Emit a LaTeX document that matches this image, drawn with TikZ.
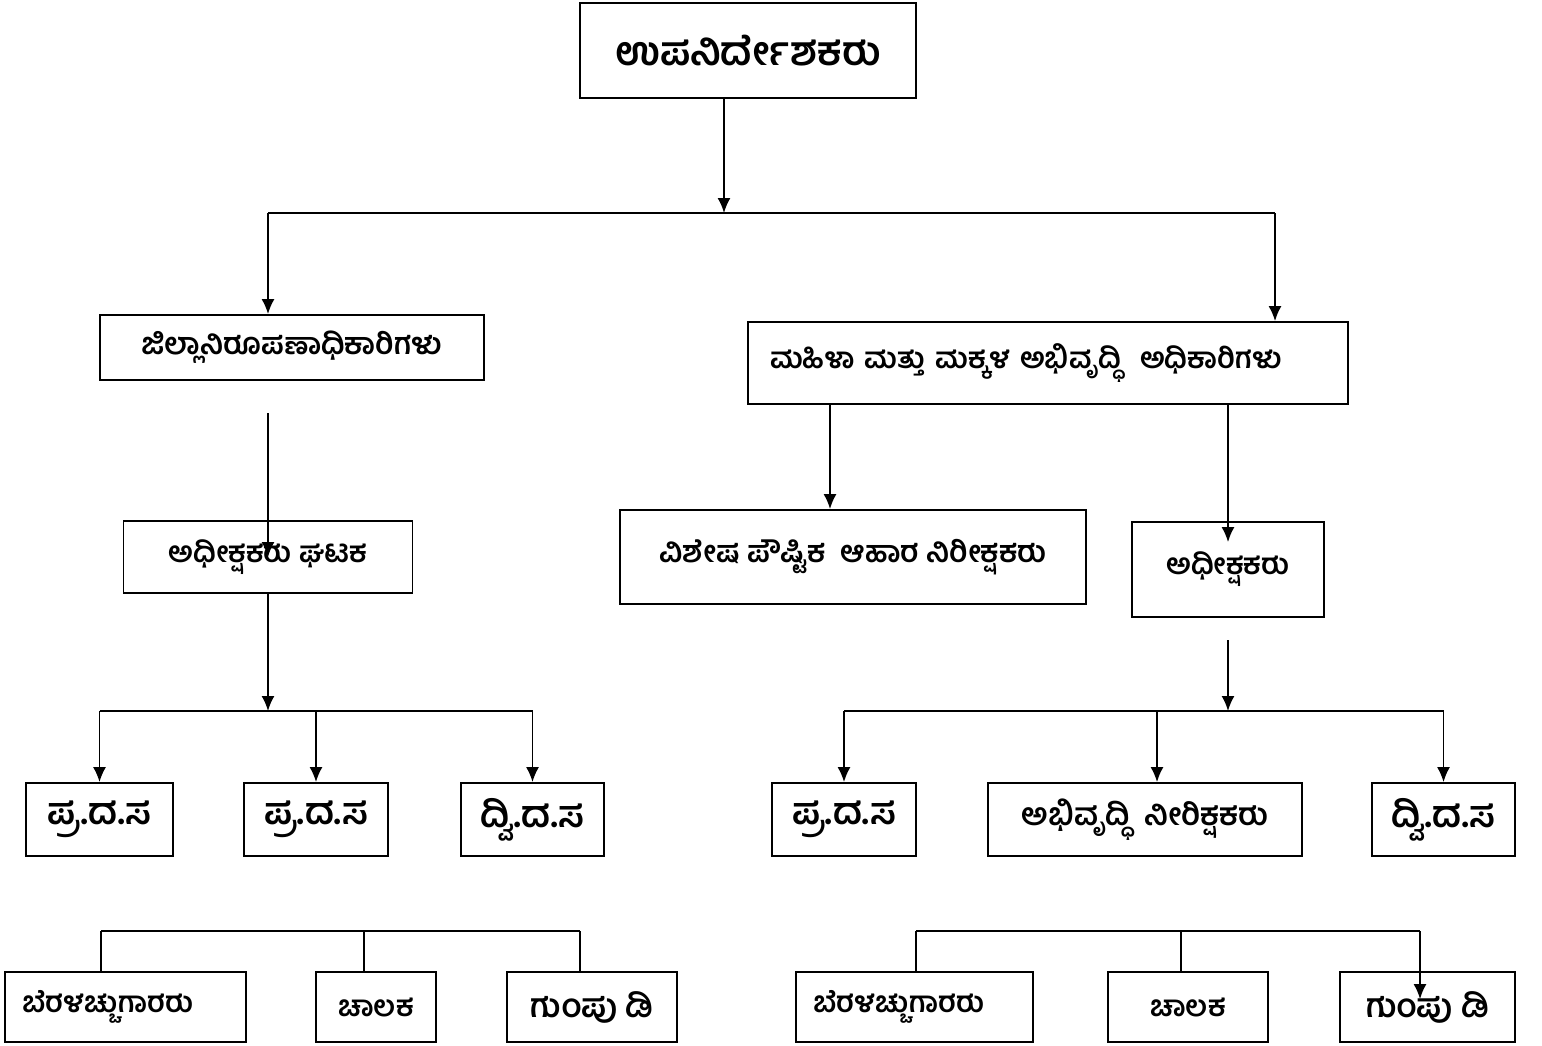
\documentclass[tikz,border=0pt]{standalone}
\usepackage{fontspec}
\newfontfamily\kan[Script=Kannada]{Hind Mysuru}
\usetikzlibrary{arrows.meta}
\tikzset{%
    post/.style={
        draw,
        rectangle,
        line width=1.8pt,
        inner sep=0pt,
        font=\kan\bfseries\fontsize{#1}{#1}\selectfont
    },
}

\begin{document}
\begin{tikzpicture}[x=1pt, y=-1pt, line width=1.8pt, >={Latex[length=15pt,width=13pt]}]
        \useasboundingbox (0,0) rectangle (1542,1045);

        % boxes
        \node [post=40, minimum width=336pt, minimum height=95pt] (head) at (748,50.5) {ಉಪನಿರ್ದೇಶಕರು};
        \node [post=30, minimum width=384pt, minimum height=65pt] (dist) at (292,347.5) {ಜಿಲ್ಲಾನಿರೂಪಣಾಧಿಕಾರಿಗಳು};
        \node [post=29, minimum width=289pt, minimum height=72pt] (unit) at (268,557) {ಅಧೀಕ್ಷಕರು ಘಟಕ};
        \node [post=29, minimum width=600pt, minimum height=82pt, text width=556pt, align=left] (wcd) at (1048,363) {ಮಹಿಳಾ ಮತ್ತು ಮಕ್ಕಳ ಅಭಿವೃದ್ಧಿ\ \ ಅಧಿಕಾರಿಗಳು};
        \node [post=30, minimum width=466pt, minimum height=94pt] (food) at (853,557) {ವಿಶೇಷ ಪೌಷ್ಟಿಕ\ \ ಆಹಾರ ನಿರೀಕ್ಷಕರು};
        \node [post=29, minimum width=192pt, minimum height=95pt] (supt) at (1228,569.5) {ಅಧೀಕ್ಷಕರು};

        \foreach \n/\x/\w/\t in {pdA/99.5/147/ಪ್ರ.ದ.ಸ, pdB/316/144/ಪ್ರ.ದ.ಸ, sdA/532.5/143/ದ್ವಿ.ದ.ಸ, pdC/844/144/ಪ್ರ.ದ.ಸ, sdB/1443.5/143/ದ್ವಿ.ದ.ಸ}
            \node [post=37, minimum width=\w pt, minimum height=73pt] (\n) at (\x,819.5) {\t};
        \node [post=31, minimum width=314pt, minimum height=73pt] (abhi) at (1145,819.5) {ಅಭಿವೃದ್ಧಿ\ \ ನೀರಿಕ್ಷಕರು};

        \foreach \n/\x/\w in {typA/125.5/241, typB/914.5/237}
            \node [post=29, minimum width=\w pt, minimum height=70pt, text width=\w pt-34pt, align=left] (\n) at (\x,1007) {ಬೆರಳಚ್ಚುಗಾರರು};
        \foreach \n/\x/\w/\s/\t in {drvA/376/120/29/ಚಾಲಕ, grpA/592/170/33/ಗುಂಪು ಡಿ,
                                    drvB/1188/160/29/ಚಾಲಕ, grpB/1427.5/175/33/ಗುಂಪು ಡಿ}
            \node [post=\s, minimum width=\w pt, minimum height=70pt] (\n) at (\x,1007) {\t};

        % top level
        \coordinate (hub) at (724,213);
        \coordinate (hubL) at (268,213);
        \coordinate (hubR) at (1275,213);
        \draw [->] (head.south -| hub) -- (hub);
        \draw (hubL) -- (hubR);
        \draw [->] (hubL) -- (hubL |- dist.north);
        \draw [->] (hubR) -- (hubR |- wcd.north);

        % left branch
        \coordinate (distout) at (268,413);
        \draw [->] (distout) -- (distout |- unit.center);

        \coordinate (busL) at (268,711);
        \draw [->] (unit.south) -- (unit.south |- busL);
        \draw (pdA.north |- busL) -- (sdA.north |- busL);
        \foreach \n in {pdA,pdB,sdA}
            \draw [->] (\n.north |- busL) -- (\n.north);

        % right branch
        \draw [->] (830,0 |- wcd.south) -- (830,0 |- food.north);
        \draw [->] ([yshift=1pt]supt.north |- wcd.south) -- ([yshift=-21pt]supt.north);

        \coordinate (suptout) at (1228,640);
        \coordinate (busR) at (1228,711);
        \draw [->] (suptout) -- (busR);
        \draw (pdC.north |- busR) -- (sdB.north |- busR);
        \foreach \n/\x in {pdC/844, abhi/1157, sdB/1443.5}
            \draw [->] (\x,711) -- (\x,0 |- \n.north);

        % bottom rows
        \coordinate (barA) at (101,931);
        \coordinate (barB) at (580,931);
        \draw (barA) -- (barB);
        \foreach \n/\x in {typA/101, drvA/364, grpA/580}
            \draw (\x,931) -- (\x,0 |- \n.north);

        \coordinate (barC) at (916,931);
        \coordinate (barD) at (1420,931);
        \draw (barC) -- (barD);
        \foreach \n/\x in {typB/916, drvB/1181}
            \draw (\x,931) -- (\x,0 |- \n.north);
        \draw [->] (barD) -- ([yshift=-28pt]barD |- grpB.north);

\end{tikzpicture}
\end{document}
